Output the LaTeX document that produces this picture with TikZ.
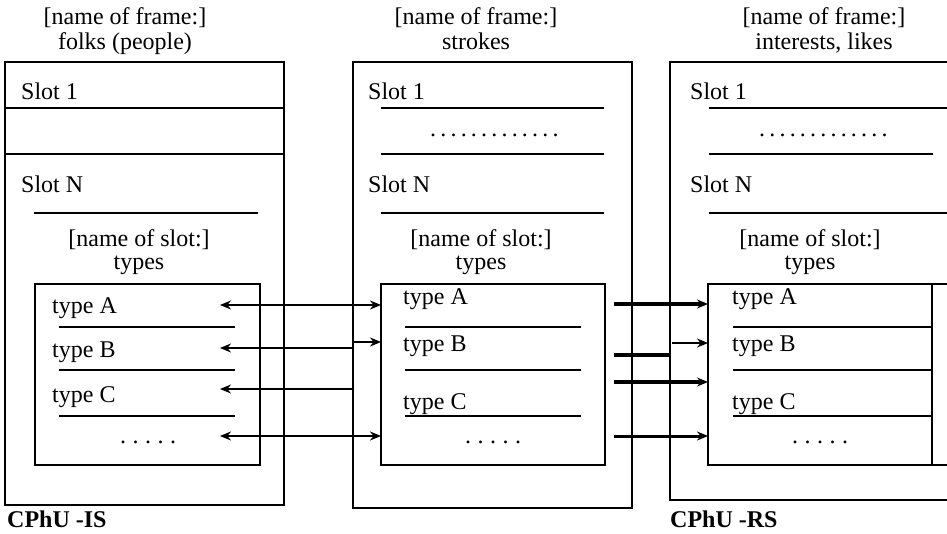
\documentclass[tikz,border=0pt]{standalone}
\usepackage{fontspec}
\setmainfont{Liberation Serif}
\usetikzlibrary{arrows.meta}
\newcommand{\dotrow}[2]{\foreach \k in {1,...,#1}{.\hspace{#2}}\unskip}
\begin{document}
\begin{tikzpicture}[x=1pt,y=-1pt,
  frm/.style={line width=2.6pt},
  rul/.style={line width=2.2pt},
  txt/.style={font=\fontsize{24}{26}\selectfont, inner sep=0pt, anchor=base west},
  ctxt/.style={font=\fontsize{24}{26}\selectfont, inner sep=0pt, anchor=base},
  btxt/.style={font=\fontsize{24}{26}\selectfont\bfseries, inner sep=0pt, anchor=base west},
  tip/.style={-{Stealth[length=11pt,width=9pt]}},
  bitip/.style={{Stealth[length=11pt,width=9pt]}-{Stealth[length=11pt,width=9pt]}},
  thin link/.style={line width=2.4pt},
  bold link/.style={line width=3.6pt}]
\useasboundingbox (0,0) rectangle (947,534);

% ---------- frame: folks (people) ----------
\node[ctxt] (fA1) at (125,25) {[name of frame:]};
\node[ctxt] (fA2) at (125,50) {folks (people)};
\draw[frm] (5,62) rectangle (284,505);
\draw[rul] (5,108) -- (284,108);
\draw[rul] (5,154) -- (284,154);
\node[txt] (sA1) at (21,100) {Slot 1};
\node[txt] (sAN) at (21,193) {Slot N};
\draw[rul] (34,213) -- (258,213);
\node[ctxt] (nA1) at (139,247) {[name of slot:]};
\node[ctxt] (nA2) at (139,270) {types};
\draw[frm] (35,284) rectangle (260,465);
\node[txt] (tAa) at (52,313) {type A};
\draw[rul] (59,327) -- (235,327);
\node[txt] (tAb) at (52,357) {type B};
\draw[rul] (59,370) -- (235,370);
\node[txt] (tAc) at (52,402) {type C};
\draw[rul] (59,416) -- (235,416);
\node[txt] (tAd) at (120,443) {\dotrow{5}{6.5pt}};
\node[btxt] (labIS) at (7,527) {CPhU -IS};

% ---------- frame: strokes ----------
\node[ctxt] (fB1) at (476,25) {[name of frame:]};
\node[ctxt] (fB2) at (476,50) {strokes};
\draw[frm] (353,62) rectangle (632,508);
\node[txt] (sB1) at (368,100) {Slot 1};
\draw[rul] (381,108) -- (604,108);
\node[txt] (dB) at (430,137) {\dotrow{13}{4.2pt}};
\draw[rul] (381,154) -- (604,154);
\node[txt] (sBN) at (368,193) {Slot N};
\draw[rul] (381,213) -- (604,213);
\node[ctxt] (nB1) at (481,247) {[name of slot:]};
\node[ctxt] (nB2) at (481,270) {types};
\draw[frm] (381,284) rectangle (605,465);
\node[txt] (tBa) at (403,305) {type A};
\draw[rul] (405,327) -- (581,327);
\node[txt] (tBb) at (403,351) {type B};
\draw[line width=2.8pt] (405,370) -- (581,370);
\node[txt] (tBc) at (403,409) {type C};
\draw[rul] (405,416) -- (581,416);
\node[txt] (tBd) at (465,443) {\dotrow{5}{6.5pt}};

% ---------- frame: interests, likes ----------
\node[ctxt] (fC1) at (824,25) {[name of frame:]};
\node[ctxt] (fC2) at (824,50) {interests, likes};
\draw[frm] (947,62) -- (670,62) -- (670,500) -- (947,500);
\node[txt] (sC1) at (690,100) {Slot 1};
\draw[rul] (709,108) -- (947,108);
\node[txt] (dC) at (759,137) {\dotrow{13}{4.2pt}};
\draw[rul] (709,154) -- (933,154);
\node[txt] (sCN) at (690,193) {Slot N};
\draw[rul] (709,213) -- (947,213);
\node[ctxt] (nC1) at (810,247) {[name of slot:]};
\node[ctxt] (nC2) at (810,270) {types};
\draw[frm] (947,284) -- (708,284) -- (708,465) -- (947,465);
\draw[rul] (932,284) -- (932,465);
\node[txt] (tCa) at (732,305) {type A};
\draw[rul] (733,327) -- (932,327);
\node[txt] (tCb) at (732,351) {type B};
\draw[rul] (733,370) -- (932,370);
\node[txt] (tCc) at (732,409) {type C};
\draw[rul] (733,416) -- (932,416);
\node[txt] (tCd) at (792,443) {\dotrow{5}{6.5pt}};
\node[btxt] (labRS) at (670,527) {CPhU -RS};

% ---------- connector end points ----------
\coordinate (lA) at (220,305);  \coordinate (mA) at (381,305);
\coordinate (lB) at (220,348);  \coordinate (eB) at (354,348);
\coordinate (jB) at (354,342);  \coordinate (mB) at (381,342);
\coordinate (lC) at (220,389);  \coordinate (eC) at (354,389);
\coordinate (lD) at (220,436);  \coordinate (mD) at (381,436);
\coordinate (oA) at (614,304);  \coordinate (rA) at (708,304);
\coordinate (oB) at (614,355);  \coordinate (kB) at (670,355);
\coordinate (jB2) at (672,343); \coordinate (rB) at (708,343);
\coordinate (oC) at (614,382);  \coordinate (rC) at (708,382);
\coordinate (oD) at (614,436);  \coordinate (rD) at (708,436);

% ---------- links between the frames ----------
\draw[thin link, bitip] (lA) -- (mA);
\draw[thin link, tip] (eB) -- (lB);
\draw[thin link, tip] (jB) -- (mB);
\draw[thin link, tip] (eC) -- (lC);
\draw[thin link, bitip] (lD) -- (mD);

\draw[bold link, tip] (oA) -- (rA);
\draw[bold link] (oB) -- (kB);
\draw[thin link, tip] (jB2) -- (rB);
\draw[bold link, tip] (oC) -- (rC);
\draw[line width=3pt, tip] (oD) -- (rD);
\end{tikzpicture}
\end{document}
